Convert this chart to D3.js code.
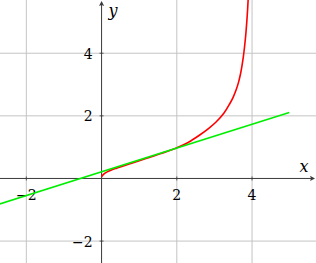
<!DOCTYPE html>
<html><head><meta charset="utf-8">
<script src="https://cdn.jsdelivr.net/npm/d3@7"></script>
<style>html,body{margin:0;padding:0;background:#fff;overflow:hidden}svg{display:block}
text{font-family:"DejaVu Serif",serif;}</style>
</head><body><svg id="c" width="316" height="263"></svg>
<script>
const xDomain = [-2.7, 5.7];
const yDomain = [-2.7, 5.7];
const gridX = [-2, 2, 4];
const gridY = [-2, 2, 4];
const xTickLabels = ["−2", "2", "4"];
const yTickLabels = ["−2", "2", "4"];
const curveX = [0.0, 0.05, 0.15, 0.4, 0.8, 1.2, 1.6, 2.0, 2.3, 2.6, 2.85, 3.05, 3.25, 3.4, 3.5, 3.58, 3.64, 3.69, 3.73, 3.77, 3.8, 3.83, 3.86, 3.88, 3.9];
const curveY = [0.05, 0.13, 0.21, 0.33, 0.49, 0.645, 0.805, 0.98, 1.15, 1.38, 1.6, 1.81, 2.08, 2.37, 2.6, 2.84, 3.07, 3.32, 3.58, 3.9, 4.2, 4.55, 5.0, 5.36, 5.8];
const tangentX = [-2.75, 4.99];
const tangentY = [-0.83, 2.11];

const W = 316, H = 263;
const svg = d3.select("#c");
const x = d3.scaleLinear().domain(xDomain).range([0, W]);
const y = d3.scaleLinear().domain(yDomain).range([H, 0]);

// grid
svg.append("g").selectAll("line").data(gridX).join("line")
  .attr("x1", d => x(d)).attr("x2", d => x(d)).attr("y1", 0).attr("y2", H)
  .attr("stroke", "#c4c4c4").attr("stroke-width", 1);
svg.append("g").selectAll("line").data(gridY).join("line")
  .attr("y1", d => y(d)).attr("y2", d => y(d)).attr("x1", 0).attr("x2", W)
  .attr("stroke", "#c4c4c4").attr("stroke-width", 1);

// axes
const axCol = "#3a3a3a";
svg.append("line").attr("x1", 0).attr("x2", W - 3).attr("y1", y(0)).attr("y2", y(0))
  .attr("stroke", axCol).attr("stroke-width", 1);
svg.append("line").attr("x1", x(0)).attr("x2", x(0)).attr("y1", H).attr("y2", 3)
  .attr("stroke", axCol).attr("stroke-width", 1);
svg.append("path").attr("d", `M${W-1},${y(0)} L${W-6},${y(0)-2.6} L${W-5},${y(0)} L${W-6},${y(0)+2.6}Z`).attr("fill", axCol);
svg.append("path").attr("d", `M${x(0)},1 L${x(0)-2.6},6 L${x(0)},5 L${x(0)+2.6},6Z`).attr("fill", axCol);

// tick marks
svg.append("g").selectAll("line").data(gridX).join("line")
  .attr("x1", d => x(d)).attr("x2", d => x(d)).attr("y1", y(0) - 2).attr("y2", y(0) + 2)
  .attr("stroke", axCol).attr("stroke-width", 0.8);
svg.append("g").selectAll("line").data(gridY).join("line")
  .attr("y1", d => y(d)).attr("y2", d => y(d)).attr("x1", x(0) - 2).attr("x2", x(0) + 2)
  .attr("stroke", axCol).attr("stroke-width", 0.8);

// tick labels
svg.append("g").selectAll("text").data(gridX).join("text")
  .attr("x", d => x(d)).attr("y", y(0) + 21.5)
  .attr("text-anchor", "middle").attr("font-size", 14)
  .attr("fill", "#000").text((d, i) => xTickLabels[i]);
svg.append("g").selectAll("text").data(gridY).join("text")
  .attr("x", x(0) - 9).attr("y", d => y(d) + 5.5)
  .attr("text-anchor", "end").attr("font-size", 14)
  .attr("fill", "#000").text((d, i) => yTickLabels[i]);

// axis labels
svg.append("text").attr("x", 304).attr("y", 172).attr("text-anchor", "middle")
  .attr("font-size", 16).attr("font-style", "italic").text("x");
svg.append("text").attr("x", 113).attr("y", 16).attr("text-anchor", "middle")
  .attr("font-size", 16).attr("font-style", "italic").text("y");

// curves
const line = d3.line().x(d => x(d[0])).y(d => y(d[1])).curve(d3.curveCatmullRom.alpha(0.5));
svg.append("path").datum(curveX.map((v, i) => [v, curveY[i]]))
  .attr("d", line).attr("fill", "none").attr("stroke", "#ff0000").attr("stroke-width", 1.6);
svg.append("path").datum(tangentX.map((v, i) => [v, tangentY[i]]))
  .attr("d", d3.line().x(d => x(d[0])).y(d => y(d[1]))).attr("fill", "none")
  .attr("stroke", "#00ee00").attr("stroke-width", 1.6);
</script></body></html>
